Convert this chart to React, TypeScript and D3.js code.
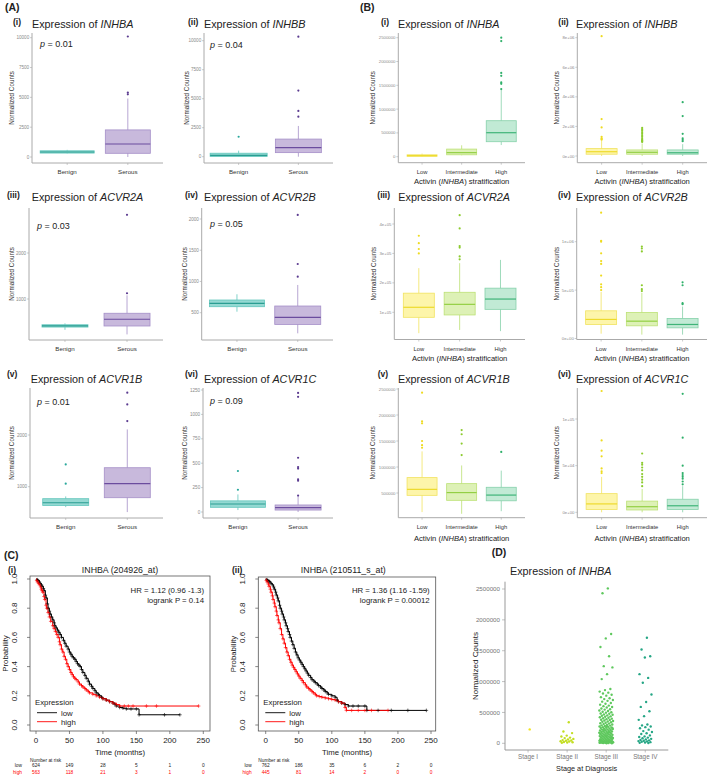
import React from "react";
import * as d3 from "d3";

type Box = { lo: number; q1: number; med: number; q3: number; hi: number; out: number[] };

// ---------- Panel A data (Benign vs Serous) ----------
const histCats = ["Benign", "Serous"];
const genesA = ["INHBA", "INHBB", "ACVR2A", "ACVR2B", "ACVR1B", "ACVR1C"];
const pValuesA = ["0.01", "0.04", "0.03", "0.05", "0.01", "0.09"];
const romans = ["(i)", "(ii)", "(iii)", "(iv)", "(v)", "(vi)"];

const aINHBA: Box[] = [
  { lo: 300, q1: 330, med: 420, q3: 520, hi: 600, out: [] },
  { lo: 0, q1: 310, med: 1090, q3: 2270, hi: 4900, out: [5250, 5400, 10100] },
];
const aINHBB: Box[] = [
  { lo: 0, q1: 20, med: 110, q3: 300, hi: 520, out: [1720] },
  { lo: 0, q1: 350, med: 780, q3: 1520, hi: 2650, out: [3450, 3950, 5700, 10350] },
];
const aACVR2A: Box[] = [
  { lo: 330, q1: 390, med: 415, q3: 440, hi: 470, out: [] },
  { lo: 230, q1: 413, med: 560, q3: 690, hi: 1080, out: [1125, 2830] },
];
const aACVR2B: Box[] = [
  { lo: 516, q1: 596, med: 650, q3: 703, hi: 795, out: [] },
  { lo: 170, q1: 312, med: 426, q3: 607, hi: 944, out: [1077, 1280, 2066] },
];
const aACVR1B: Box[] = [
  { lo: 605, q1: 638, med: 690, q3: 768, hi: 812, out: [1058, 1431] },
  { lo: 509, q1: 787, med: 1058, q3: 1367, hi: 2108, out: [2269, 2592, 2818] },
];
const aACVR1C: Box[] = [
  { lo: 20, q1: 48, med: 82, q3: 114, hi: 180, out: [228, 420] },
  { lo: 0, q1: 20, med: 44, q3: 72, hi: 160, out: [168, 320, 335, 445, 460, 556, 1180, 1220] },
];
const dataA = [aINHBA, aINHBB, aACVR2A, aACVR2B, aACVR1B, aACVR1C];
const ticksA = [
  [0, 2500, 5000, 7500, 10000],
  [0, 2500, 5000, 7500, 10000],
  [1000, 2000],
  [500, 1000, 1500, 2000],
  [1000, 2000],
  [0, 250, 500, 750, 1000, 1250],
];

// ---------- Panel B data (Activin stratification) ----------
const stratCats = ["Low", "Intermediate", "High"];
const bINHBA: Box[] = [
  { lo: 0, q1: 8000, med: 22000, q3: 40000, hi: 65000, out: [] },
  { lo: 30000, q1: 40000, med: 85000, q3: 160000, hi: 240000, out: [] },
  { lo: 245000, q1: 315000, med: 504000, q3: 756000, hi: 1400000, out: [1420000, 1530000, 1560000, 1700000, 1760000, 2430000, 2500000] },
];
const bINHBB: Box[] = [
  { lo: 0, q1: 120000, med: 290000, q3: 500000, hi: 1050000, out: [1100000, 1150000, 1200000, 1300000, 1930000, 2500000, 8100000] },
  { lo: 0, q1: 120000, med: 250000, q3: 410000, hi: 850000, out: [950000, 1000000, 1050000, 1100000, 1200000, 1300000, 1400000, 1500000, 1600000, 1700000, 1800000, 1900000] },
  { lo: 0, q1: 120000, med: 220000, q3: 410000, hi: 800000, out: [1000000, 1100000, 1200000, 1500000, 2700000, 3640000] },
];
const bACVR2A: Box[] = [
  { lo: 29000, q1: 83000, med: 117000, q3: 165000, hi: 250000, out: [300000, 315000, 335000, 360000] },
  { lo: 40000, q1: 91000, med: 127000, q3: 168000, hi: 267000, out: [280000, 290000, 320000, 325000, 385000, 430000] },
  { lo: 36000, q1: 110000, med: 145000, q3: 182000, hi: 278000, out: [] },
];
const bACVR2B: Box[] = [
  { lo: 50000, q1: 144000, med: 197000, q3: 286000, hi: 480000, out: [500000, 530000, 560000, 650000, 770000, 800000, 880000, 1000000, 1010000, 1300000] },
  { lo: 40000, q1: 131000, med: 179000, q3: 269000, hi: 470000, out: [490000, 510000, 550000, 900000, 930000, 950000] },
  { lo: 40000, q1: 110000, med: 145000, q3: 207000, hi: 330000, out: [355000, 365000, 550000, 580000] },
];
const bACVR1B: Box[] = [
  { lo: 133000, q1: 455000, med: 570000, q3: 796000, hi: 1300000, out: [1370000, 1420000, 1500000, 1840000, 1880000, 2430000] },
  { lo: 100000, q1: 359000, med: 508000, q3: 680000, hi: 1030000, out: [1230000, 1450000, 1630000, 1710000] },
  { lo: 150000, q1: 350000, med: 460000, q3: 610000, hi: 930000, out: [1290000] },
];
const bACVR1C: Box[] = [
  { lo: 0, q1: 3000, med: 9000, q3: 20000, hi: 38000, out: [42000, 44000, 47000, 60000, 66000, 77000, 130000] },
  { lo: 0, q1: 2500, med: 6000, q3: 12000, hi: 25000, out: [28000, 32000, 35000, 38000, 41000, 45000, 48000, 51000, 53000, 63000] },
  { lo: 0, q1: 3000, med: 7000, q3: 14000, hi: 28000, out: [30000, 33000, 36000, 38000, 40000, 42000, 50000, 80000, 127000] },
];
const dataB = [bINHBA, bINHBB, bACVR2A, bACVR2B, bACVR1B, bACVR1C];
const ticksB = [
  [0, 500000, 1000000, 1500000, 2000000, 2500000],
  [0, 2e6, 4e6, 6e6, 8e6],
  [1e5, 2e5, 3e5, 4e5],
  [0, 5e5, 1e6],
  [5e5, 1e6, 1.5e6, 2e6, 2.5e6],
  [0, 5e4, 1e5],
];
const tickLabelsB = [
  ["0", "500000", "1000000", "1500000", "2000000", "2500000"],
  ["0e+00", "2e+06", "4e+06", "6e+06", "8e+06"],
  ["1e+05", "2e+05", "3e+05", "4e+05"],
  ["0e+00", "5e+05", "1e+06"],
  ["500000", "1000000", "1500000", "2000000", "2500000"],
  ["0e+00", "5e+04", "1e+05"],
];

// ---------- Panel C data (Kaplan-Meier) ----------
const km1Low: [number, number][] = [[0, 1], [2, 0.995], [3, 0.99], [5, 0.98], [6, 0.97], [8, 0.96], [9, 0.95], [11, 0.935], [12, 0.92], [14, 0.89], [15, 0.87], [17, 0.83], [18, 0.8], [20, 0.78], [21, 0.76], [23, 0.74], [25, 0.72], [27, 0.7], [28, 0.68], [30, 0.665], [32, 0.65], [34, 0.635], [36, 0.62], [38, 0.6], [41, 0.58], [43, 0.56], [45, 0.54], [48, 0.52], [50, 0.5], [52, 0.485], [54, 0.47], [56, 0.46], [58, 0.45], [60, 0.435], [62, 0.42], [64, 0.41], [66, 0.4], [68, 0.38], [70, 0.36], [73, 0.34], [75, 0.32], [78, 0.3], [80, 0.28], [83, 0.265], [85, 0.25], [88, 0.235], [90, 0.22], [93, 0.21], [95, 0.2], [98, 0.19], [100, 0.18], [105, 0.17], [110, 0.16], [115, 0.15], [118, 0.14], [120, 0.13], [125, 0.12], [130, 0.115], [135, 0.11], [142, 0.11], [150, 0.11], [154, 0.07], [192, 0.07], [215, 0.07]];
const km1High: [number, number][] = [[0, 1], [1, 0.99], [2, 0.98], [4, 0.97], [5, 0.96], [7, 0.945], [8, 0.93], [9, 0.92], [10, 0.91], [12, 0.88], [13, 0.86], [15, 0.82], [16, 0.8], [18, 0.77], [20, 0.74], [22, 0.71], [25, 0.68], [27, 0.66], [29, 0.64], [31, 0.62], [33, 0.6], [35, 0.57], [36, 0.55], [38, 0.52], [40, 0.5], [42, 0.47], [44, 0.45], [46, 0.42], [48, 0.4], [50, 0.38], [52, 0.36], [54, 0.345], [56, 0.33], [58, 0.32], [60, 0.31], [63, 0.295], [65, 0.28], [68, 0.27], [70, 0.26], [73, 0.25], [75, 0.24], [78, 0.23], [80, 0.22], [85, 0.21], [90, 0.2], [95, 0.19], [100, 0.18], [105, 0.17], [110, 0.16], [115, 0.15], [120, 0.14], [125, 0.13], [132, 0.13], [138, 0.13], [145, 0.13], [165, 0.13], [180, 0.13], [243, 0.13]];
const km2Low: [number, number][] = [[0, 1], [2, 0.995], [3, 0.99], [5, 0.985], [6, 0.98], [8, 0.97], [10, 0.96], [12, 0.945], [13, 0.93], [15, 0.91], [16, 0.89], [18, 0.87], [19, 0.85], [21, 0.82], [22, 0.8], [24, 0.78], [25, 0.76], [27, 0.74], [28, 0.72], [30, 0.7], [31, 0.68], [33, 0.66], [34, 0.64], [36, 0.62], [37, 0.6], [39, 0.575], [41, 0.55], [43, 0.525], [45, 0.5], [47, 0.48], [49, 0.46], [51, 0.445], [53, 0.43], [55, 0.415], [57, 0.4], [59, 0.385], [61, 0.37], [63, 0.355], [65, 0.34], [68, 0.325], [70, 0.31], [73, 0.3], [75, 0.29], [78, 0.28], [80, 0.27], [83, 0.26], [85, 0.25], [88, 0.24], [90, 0.23], [93, 0.22], [95, 0.21], [100, 0.2], [105, 0.19], [108, 0.17], [110, 0.16], [115, 0.15], [120, 0.14], [125, 0.13], [132, 0.13], [140, 0.13], [150, 0.13], [153, 0.1], [170, 0.1], [190, 0.1], [215, 0.1], [243, 0.1]];
const km2High: [number, number][] = [[0, 1], [1, 0.99], [2, 0.98], [4, 0.965], [5, 0.95], [7, 0.93], [8, 0.91], [10, 0.885], [11, 0.86], [13, 0.835], [14, 0.81], [16, 0.78], [17, 0.75], [19, 0.72], [20, 0.7], [22, 0.66], [24, 0.62], [26, 0.59], [28, 0.56], [30, 0.53], [32, 0.5], [34, 0.475], [36, 0.45], [38, 0.43], [40, 0.41], [42, 0.395], [44, 0.38], [46, 0.365], [48, 0.35], [50, 0.335], [52, 0.32], [55, 0.305], [57, 0.29], [60, 0.275], [62, 0.26], [65, 0.25], [67, 0.24], [70, 0.23], [72, 0.22], [75, 0.21], [77, 0.2], [81, 0.195], [85, 0.19], [90, 0.185], [95, 0.18], [100, 0.175], [105, 0.17], [110, 0.16], [115, 0.15], [120, 0.12], [122, 0.1], [130, 0.1], [140, 0.1], [150, 0.1], [160, 0.1], [185, 0.1]];
const kmTitles = ["INHBA (204926_at)", "INHBA (210511_s_at)"];
const kmHR = ["HR = 1.12 (0.96 -1.3)", "HR = 1.36 (1.16 -1.59)"];
const kmP = ["logrank P = 0.14", "logrank P = 0.00012"];
const riskTimes = [0, 50, 100, 150, 200, 250];
const risk1Low = [624, 149, 28, 5, 1, 0];
const risk1High = [563, 118, 21, 3, 1, 0];
const risk2Low = [762, 186, 35, 6, 2, 0];
const risk2High = [445, 81, 14, 2, 0, 0];
const kmXTicks = [0, 50, 100, 150, 200, 250];
const kmYTicks = [0, 0.2, 0.4, 0.6, 0.8, 1.0];

// ---------- Panel D data (stage) ----------
const stageCats = ["Stage I", "Stage II", "Stage III", "Stage IV"];
const stageI = [225000];
const stageII = [340000, 190000, 165000, 125000, 110000, 92000, 84000, 71000, 63000, 52000, 46000, 41000, 33000, 28000, 22000, 17000, 12000, 8000];
const stageIII = [2510000, 2430000, 1770000, 1700000, 1560000, 1410000, 1250000, 1230000, 1120000, 1040000, 880000, 862000, 838000, 821000, 808000, 786000, 772000, 748000, 731000, 716000, 702000, 688000, 675000, 652000, 641000, 626000, 611000, 602000, 588000, 579000, 563000, 551000, 546000, 531000, 524000, 512000, 503000, 497000, 484000, 479000, 468000, 463000, 452000, 446000, 437000, 431000, 423000, 414000, 405000, 399000, 391000, 382000, 377000, 369000, 362000, 354000, 348000, 341000, 333000, 325000, 319000, 312000, 304000, 299000, 291000, 287000, 280000, 273000, 269000, 262000, 258000, 251000, 247000, 241000, 236000, 231000, 225000, 222000, 217000, 212000, 207000, 203000, 196000, 193000, 187000, 184000, 178000, 175000, 171000, 166000, 160000, 158000, 153000, 149000, 145000, 141000, 137000, 133000, 129000, 126000, 121000, 117000, 113000, 109000, 105000, 101000, 97000, 93000, 89000, 86000, 82000, 78000, 75000, 71000, 67000, 63000, 61000, 57000, 54000, 50000, 47000, 44000, 41000, 38000, 35000, 32000, 29000, 27000, 24000, 21000, 19000, 16000, 14000, 11000, 9000, 7000, 5000, 3000, 2000, 1000, 43000, 37000, 26000, 18000, 12500, 6500, 95000, 118000, 152000, 183000, 214000, 248000, 276000, 30500, 22500, 15500, 9500];
const stageIV = [1710000, 1520000, 1410000, 1390000, 1120000, 1060000, 980000, 790000, 670000, 590000, 520000, 440000, 380000, 305000, 290000, 272000, 262000, 243000, 221000, 198000, 183000, 162000, 151000, 128000, 112000, 101000, 92000, 81000, 72000, 63000, 55000, 48000, 42000, 36000, 31000, 25000, 19000, 14000, 9000, 5000];
const stageData = [stageI, stageII, stageIII, stageIV];
const stageTicks = [0, 500000, 1000000, 1500000, 2000000, 2500000];

// ---------- layout ----------
const FONT = "'Liberation Sans', Arial, Helvetica, sans-serif";
const TITLE_FS = 10.8;

const layoutA = [
  { left: 32, right: 163, top: 33, bottom: 163, cal: [[0, 157], [10000, 37.7]], romanX: 13, romanY: 24.5, titleX: 32, titleY: 27.5, pX: 40, pY: 47, ylabX: 12, labelY: 174, widths: [54, 45] },
  { left: 204, right: 333, top: 33, bottom: 163, cal: [[0, 156.7], [10000, 40.7]], romanX: 188, romanY: 24.5, titleX: 204, titleY: 27.5, pX: 210, pY: 47.5, ylabX: 187, labelY: 174, widths: [57, 46] },
  { left: 29, right: 163, top: 208, bottom: 340, cal: [[1000, 299], [2000, 253]], romanX: 7, romanY: 198, titleX: 31.7, titleY: 201, pX: 37, pY: 228.5, ylabX: 12, labelY: 351, widths: [46, 46] },
  { left: 201.7, right: 333, top: 208, bottom: 340, cal: [[500, 312.7], [2000, 219]], romanX: 185, romanY: 198, titleX: 204, titleY: 201, pX: 210, pY: 227, ylabX: 185, labelY: 351, widths: [55, 46] },
  { left: 30, right: 163, top: 388, bottom: 518, cal: [[1000, 486.7], [2000, 435]], romanX: 7, romanY: 377, titleX: 30.7, titleY: 383, pX: 37, pY: 404.5, ylabX: 12, labelY: 529, widths: [46, 46] },
  { left: 203, right: 333, top: 388, bottom: 518, cal: [[0, 512], [1250, 390]], romanX: 185, romanY: 377, titleX: 204, titleY: 383, pX: 210, pY: 404, ylabX: 185, labelY: 529, widths: [55, 46] },
];
const layoutB = [
  { left: 398.3, right: 525, top: 33, bottom: 162.7, cal: [[0, 156.7], [2500000, 37.7]], romanX: 381, romanY: 24.5, titleX: 398, titleY: 27.5, ylabX: 373, labelY: 174, axisTitleY: 184, widths: [30, 30, 30] },
  { left: 577.3, right: 707, top: 33, bottom: 162.7, cal: [[0, 156], [8e6, 37.7]], romanX: 558.3, romanY: 24.5, titleX: 576, titleY: 27.5, ylabX: 557, labelY: 174, axisTitleY: 184, widths: [31, 31, 31] },
  { left: 394.3, right: 525, top: 208, bottom: 339.5, cal: [[1e5, 312.3], [4e5, 224]], romanX: 377.3, romanY: 198, titleX: 398.3, titleY: 201, ylabX: 374, labelY: 351, axisTitleY: 361, widths: [31, 31, 31] },
  { left: 576.7, right: 707, top: 208, bottom: 339.5, cal: [[0, 338.5], [1e6, 241.7]], romanX: 558, romanY: 198, titleX: 576, titleY: 201, ylabX: 557, labelY: 351, axisTitleY: 361, widths: [31, 31, 31] },
  { left: 398.3, right: 525, top: 388, bottom: 517.7, cal: [[5e5, 493], [2.5e6, 389]], romanX: 377.7, romanY: 377, titleX: 398, titleY: 383, ylabX: 373, labelY: 529, axisTitleY: 541, widths: [30, 30, 30] },
  { left: 577.3, right: 707, top: 388, bottom: 517.7, cal: [[0, 512.3], [1e5, 419]], romanX: 558, romanY: 377, titleX: 576, titleY: 383, ylabX: 557, labelY: 529, axisTitleY: 541, widths: [31, 31, 31] },
];

const palA = [
  { base: "#3DB9AD", a: 0.55, line: "#62C6BC", med: "#2A9D92", pt: "#2AA89C" },
  { base: "#8B6DB6", a: 0.48, line: "#A58FC8", med: "#6B4C9E", pt: "#5B3B90" },
];
const palB = [
  { base: "#F9E52A", a: 0.4, line: "#F1E360", med: "#EEDA2C", pt: "#EEDB20" },
  { base: "#A6DA3E", a: 0.38, line: "#BCE175", med: "#93CF44", pt: "#8CCB2E" },
  { base: "#43BE7E", a: 0.33, line: "#86D1AA", med: "#3FB478", pt: "#2FB06A" },
];
const stageColors = ["#F2E41E", "#C3DE22", "#5FC85E", "#25A685"];

function BoxPanel({ L, cats, boxes, ticks, labels, pal, roman, gene, p, tickFs, catFs, xTitle, pad }: any) {
  const y = d3.scaleLinear().domain([L.cal[0][0], L.cal[1][0]]).range([L.cal[0][1], L.cal[1][1]]);
  const x = d3.scalePoint<string>().domain(cats).range([L.left, L.right]).padding(pad);
  const tk = ticks
    .map((t: number, i: number) => ({ t, label: labels[i] }))
    .filter((d: any) => y(d.t) <= L.bottom + 0.5 && y(d.t) >= L.top - 0.5);
  return (
    <g>
      <text x={L.romanX} y={L.romanY} fontSize={8.5} fontWeight="bold" fill="#222">{roman}</text>
      <text x={L.titleX} y={L.titleY} fontSize={TITLE_FS} fill="#222">
        Expression of <tspan fontStyle="italic">{gene}</tspan>
      </text>
      {p && (
        <text x={L.pX} y={L.pY} fontSize={9} fill="#222">
          <tspan fontStyle="italic">p</tspan> = {p}
        </text>
      )}
      {boxes.map((b: Box, i: number) => {
        const cx = x(cats[i]) as number;
        const w = L.widths[i];
        const c = pal[i];
        return (
          <g key={i}>
            <line x1={cx} x2={cx} y1={y(b.lo)} y2={y(b.q1)} stroke={c.line} strokeWidth={0.8} />
            <line x1={cx} x2={cx} y1={y(b.q3)} y2={y(b.hi)} stroke={c.line} strokeWidth={0.8} />
            <rect x={cx - w / 2} y={y(b.q3)} width={w} height={Math.max(1.5, y(b.q1) - y(b.q3))} fill={c.base} fillOpacity={c.a} stroke={c.line} strokeWidth={0.8} />
            <line x1={cx - w / 2} x2={cx + w / 2} y1={y(b.med)} y2={y(b.med)} stroke={c.med} strokeWidth={1.2} />
            {b.out.map((v, j) => (
              <circle key={j} cx={cx} cy={y(v)} r={1.1} fill={c.pt} />
            ))}
          </g>
        );
      })}
      <line x1={L.left} x2={L.left} y1={L.top} y2={L.bottom} stroke="#aaa" strokeWidth={1} />
      <line x1={L.left} x2={L.right} y1={L.bottom} y2={L.bottom} stroke="#aaa" strokeWidth={1} />
      {tk.map((d: any) => (
        <g key={d.t}>
          <line x1={L.left - 2} x2={L.left} y1={y(d.t)} y2={y(d.t)} stroke="#aaa" strokeWidth={0.6} />
          <text x={L.left - 2.8} y={y(d.t)} dy="0.35em" textAnchor="end" fontSize={tickFs} fill="#8a8a8a">{d.label}</text>
        </g>
      ))}
      {cats.map((c: string) => (
        <g key={c}>
          <line x1={x(c)} x2={x(c)} y1={L.bottom} y2={L.bottom + 2} stroke="#aaa" strokeWidth={0.6} />
          <text x={x(c)} y={L.labelY} textAnchor="middle" fontSize={catFs} fill="#333">{c}</text>
        </g>
      ))}
      <text transform={`translate(${L.ylabX},${(L.top + L.bottom) / 2}) rotate(-90)`} textAnchor="middle" dy="0.35em" fontSize={6.3} fill="#333">Normalized Counts</text>
      {xTitle && (
        <text x={(L.left + L.right) / 2} y={L.axisTitleY} textAnchor="middle" fontSize={7.6} fill="#222">
          Activin (<tspan fontStyle="italic">INHBA</tspan>) stratification
        </text>
      )}
    </g>
  );
}

const kmLayout = [
  { left: 30, right: 210, top: 576, bottom: 731, x0: 36, x250: 203.3, romanX: 8, titleCx: 120, riskLabelX: 22 },
  { left: 258.3, right: 435.7, top: 577, bottom: 731, x0: 265.7, x250: 431, romanX: 232, titleCx: 343.3, riskLabelX: 251.7 },
];

function KMPanel({ L, low, high, title, hr, pv, roman, riskLow, riskHigh }: any) {
  const x = d3.scaleLinear().domain([0, 250]).range([L.x0, L.x250]);
  const y = d3.scaleLinear().domain([0, 1]).range([725, 579]);
  const line = d3.line<[number, number]>().x((d) => x(d[0])).y((d) => y(d[1])).curve(d3.curveStepAfter);
  const plus = (pts: [number, number][], color: string) =>
    pts.slice(1).map((d, i) => (
      <path key={i} d={`M${x(d[0]) - 1.8},${y(d[1])}h3.6M${x(d[0])},${y(d[1]) - 1.8}v3.6`} stroke={color} strokeWidth={0.6} />
    ));
  return (
    <g>
      <text x={L.romanX} y={573.3} fontSize={8.5} fontWeight="bold" fill="#222">{roman}</text>
      <text x={L.titleCx} y={573.3} fontSize={8.8} textAnchor="middle" fill="#222">{title}</text>
      <rect x={L.left} y={L.top} width={L.right - L.left} height={L.bottom - L.top} fill="none" stroke="#555" strokeWidth={0.8} />
      <path d={line(low) as string} fill="none" stroke="#000" strokeWidth={1} />
      <path d={line(high) as string} fill="none" stroke="#ff0000" strokeWidth={1} />
      {plus(low, "#000")}
      {plus(high, "#ff0000")}
      {kmXTicks.map((t) => (
        <g key={t}>
          <line x1={x(t)} x2={x(t)} y1={L.bottom} y2={L.bottom + 3} stroke="#555" strokeWidth={0.7} />
          <text x={x(t)} y={743.3} textAnchor="middle" fontSize={8} fill="#222">{t}</text>
        </g>
      ))}
      {kmYTicks.map((t) => (
        <g key={t}>
          <line x1={L.left - 3} x2={L.left} y1={y(t)} y2={y(t)} stroke="#555" strokeWidth={0.7} />
          <text transform={`translate(${L.left - 13.3},${y(t)}) rotate(-90)`} textAnchor="middle" fontSize={8} fill="#222">{t.toFixed(1)}</text>
        </g>
      ))}
      <text transform={`translate(${L.left - 22},${(L.top + L.bottom) / 2}) rotate(-90)`} textAnchor="middle" fontSize={7.8} fill="#222">Probability</text>
      <text x={(L.left + L.right) / 2} y={754.5} textAnchor="middle" fontSize={7.8} fill="#222">Time (months)</text>
      <text x={L.right - 6} y={592.7} textAnchor="end" fontSize={7.8} fill="#222">{hr}</text>
      <text x={L.right - 6} y={603.3} textAnchor="end" fontSize={7.8} fill="#222">{pv}</text>
      <text x={L.left + 5} y={705} fontSize={7.8} fill="#222">Expression</text>
      <line x1={L.left + 7} x2={L.left + 27} y1={712.7} y2={712.7} stroke="#000" strokeWidth={0.9} />
      <line x1={L.left + 7} x2={L.left + 27} y1={721.7} y2={721.7} stroke="#ff0000" strokeWidth={0.9} />
      <text x={L.left + 31} y={715.7} fontSize={7.8} fill="#222">low</text>
      <text x={L.left + 31} y={724.7} fontSize={7.8} fill="#222">high</text>
      <text x={L.left} y={761.5} fontSize={4.8} fill="#222">Number at risk</text>
      <text x={L.riskLabelX} y={767} fontSize={4.8} textAnchor="end" fill="#222">low</text>
      <text x={L.riskLabelX} y={773.5} fontSize={4.8} textAnchor="end" fill="#ff0000">high</text>
      {riskTimes.map((t, i) => (
        <g key={t}>
          <text x={x(t)} y={767} fontSize={4.8} textAnchor="middle" fill="#222">{riskLow[i]}</text>
          <text x={x(t)} y={773.5} fontSize={4.8} textAnchor="middle" fill="#ff0000">{riskHigh[i]}</text>
        </g>
      ))}
    </g>
  );
}

const dLayout = { left: 505, right: 668.3, top: 581.7, bottom: 750, cal: [[0, 743.3], [2500000, 589]] };

function StagePanel() {
  const L = dLayout;
  const y = d3.scaleLinear().domain([L.cal[0][0], L.cal[1][0]]).range([L.cal[0][1], L.cal[1][1]]);
  const x = d3.scalePoint<string>().domain(stageCats).range([L.left, L.right]).padding(0.59);
  return (
    <g>
      <text x={491.7} y={556} fontSize={10.5} fontWeight="bold" fill="#222">(D)</text>
      <text x={510} y={574.5} fontSize={TITLE_FS} fill="#222">
        Expression of <tspan fontStyle="italic">INHBA</tspan>
      </text>
      {stageData.map((vals, si) =>
        vals.map((v, i) => {
          const jitter = (((i + 1) * 0.618034) % 1 - 0.5) * 14;
          return <circle key={si + "-" + i} cx={(x(stageCats[si]) as number) + jitter} cy={y(v)} r={1.2} fill={stageColors[si]} />;
        })
      )}
      <line x1={L.left} x2={L.left} y1={L.top} y2={L.bottom} stroke="#999" strokeWidth={1} />
      <line x1={L.left} x2={L.right} y1={L.bottom} y2={L.bottom} stroke="#999" strokeWidth={1} />
      {stageTicks.map((t) => (
        <g key={t}>
          <line x1={L.left - 3} x2={L.left} y1={y(t)} y2={y(t)} stroke="#999" strokeWidth={0.6} />
          <text x={L.left - 5} y={y(t)} dy="0.35em" textAnchor="end" fontSize={6.2} fill="#777">{t}</text>
        </g>
      ))}
      {stageCats.map((c) => (
        <g key={c}>
          <line x1={x(c)} x2={x(c)} y1={L.bottom} y2={L.bottom + 2.5} stroke="#999" strokeWidth={0.6} />
          <text x={x(c)} y={758.5} textAnchor="middle" fontSize={6.3} fill="#777">{c}</text>
        </g>
      ))}
      <text transform={`translate(475,666) rotate(-90)`} textAnchor="middle" dy="0.35em" fontSize={8} fill="#222">Normalized Counts</text>
      <text x={(L.left + L.right) / 2} y={771} textAnchor="middle" fontSize={7.3} fill="#222">Stage at Diagnosis</text>
    </g>
  );
}

export default function App() {
  const kmData = [
    { low: km1Low, high: km1High, riskLow: risk1Low, riskHigh: risk1High },
    { low: km2Low, high: km2High, riskLow: risk2Low, riskHigh: risk2High },
  ];
  return (
    <svg width={709} height={776} style={{ position: "absolute", left: 0, top: 0, fontFamily: FONT }}>
      <rect width={709} height={776} fill="#fff" />
      <text x={5} y={11} fontSize={10.5} fontWeight="bold" fill="#222">(A)</text>
      <text x={360} y={11} fontSize={10.5} fontWeight="bold" fill="#222">(B)</text>
      <text x={4} y={559} fontSize={10.5} fontWeight="bold" fill="#222">(C)</text>
      {layoutA.map((L, i) => (
        <BoxPanel key={"a" + i} L={L} cats={histCats} boxes={dataA[i]} ticks={ticksA[i]} labels={ticksA[i].map(String)} pal={palA}
          roman={romans[i]} gene={genesA[i]} p={pValuesA[i]} tickFs={4.6} catFs={6.2} pad={0.58} />
      ))}
      {layoutB.map((L, i) => (
        <BoxPanel key={"b" + i} L={L} cats={stratCats} boxes={dataB[i]} ticks={ticksB[i]} labels={tickLabelsB[i]} pal={palB}
          roman={romans[i]} gene={genesA[i]} tickFs={4.3} catFs={5.8} xTitle pad={0.6} />
      ))}
      {kmLayout.map((L, i) => (
        <KMPanel key={"k" + i} L={L} {...kmData[i]} title={kmTitles[i]} hr={kmHR[i]} pv={kmP[i]} roman={romans[i]} />
      ))}
      <StagePanel />
    </svg>
  );
}
